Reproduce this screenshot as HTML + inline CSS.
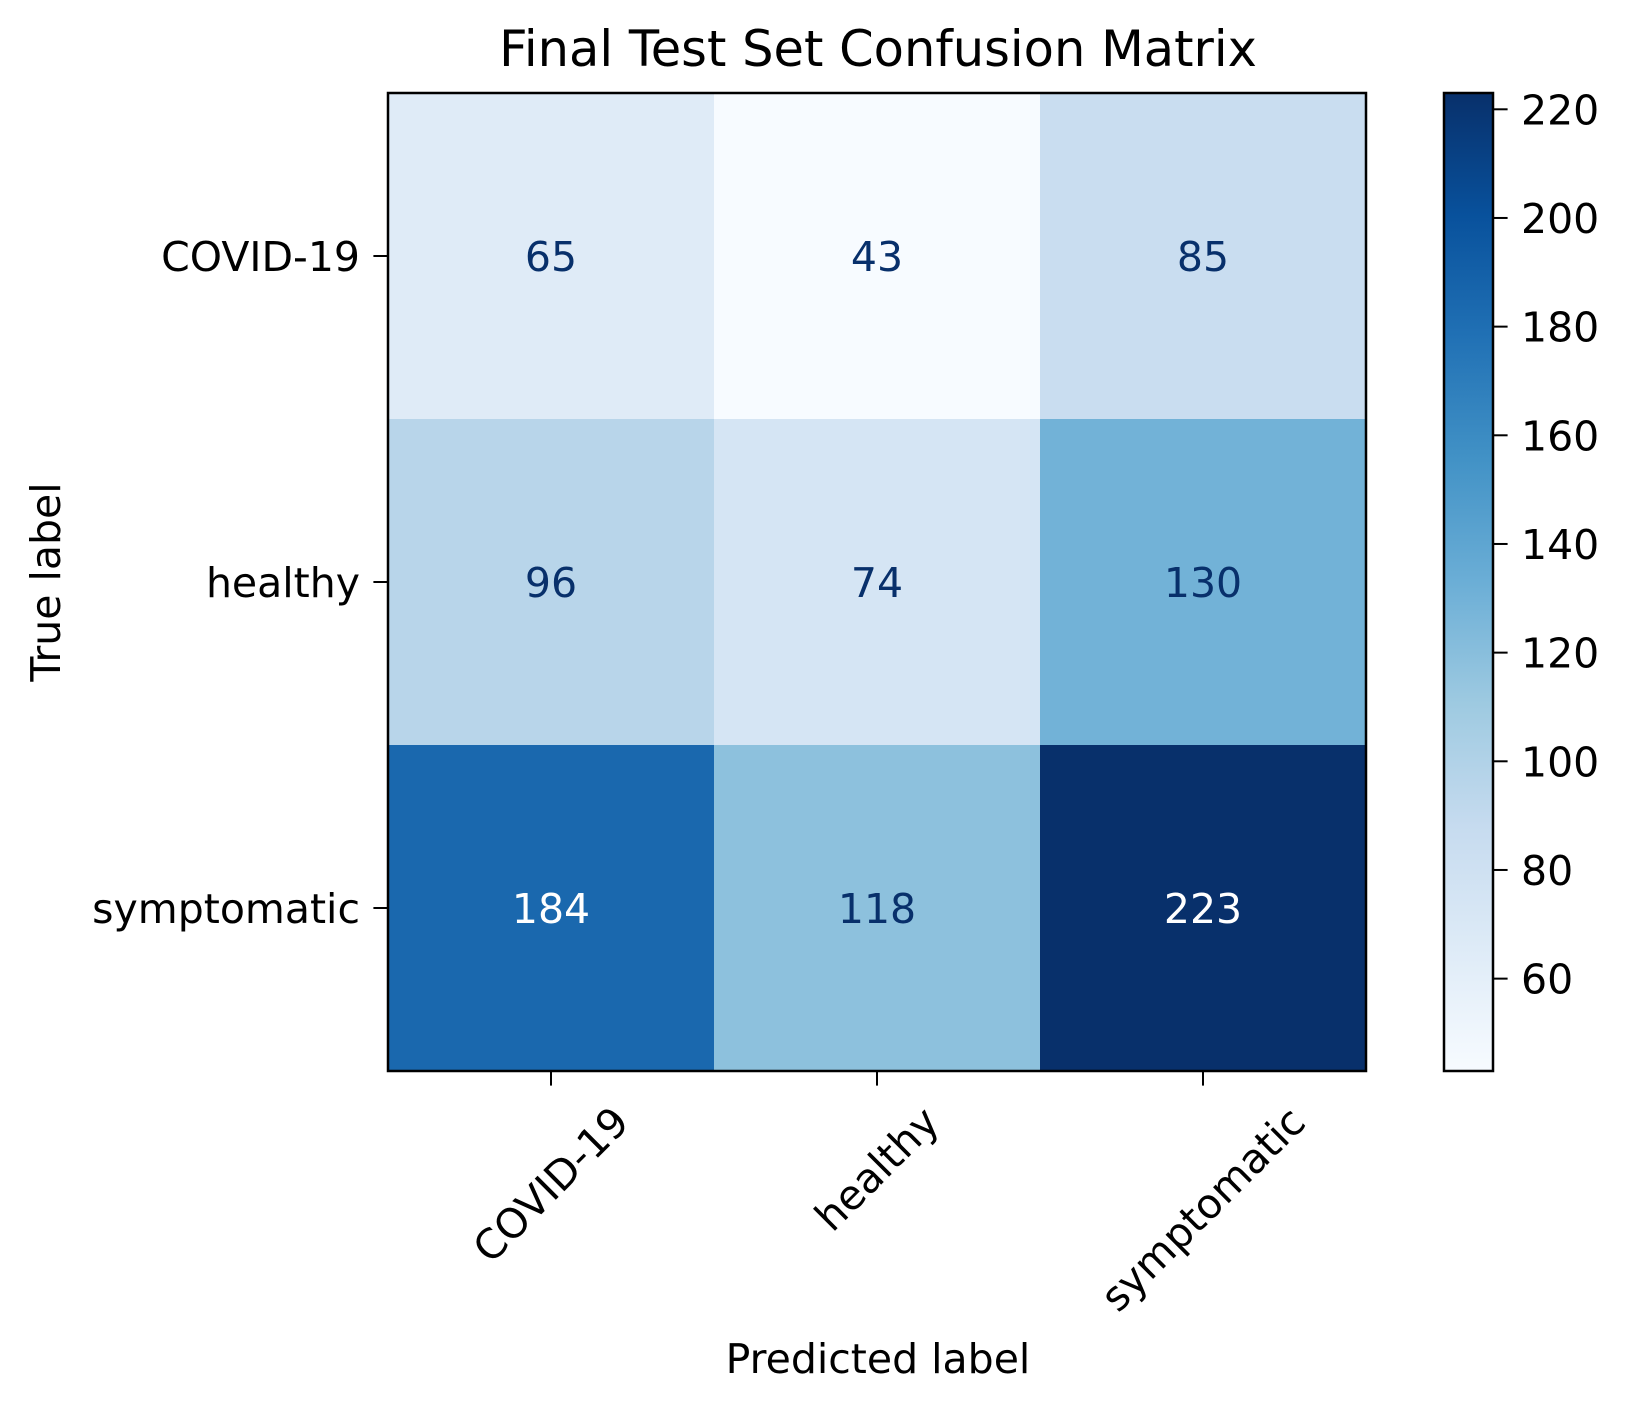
<!DOCTYPE html>
<html><head><meta charset="utf-8"><style>
html,body{margin:0;padding:0;background:#fff;}
svg{display:block;font-family:"DejaVu Sans","Liberation Sans",sans-serif;}
</style></head><body>
<svg id="c" width="1631" height="1408" viewBox="0 0 1631 1408">
<text x="878" y="66" font-size="49.5" text-anchor="middle">Final Test Set Confusion Matrix</text>
<g id="cells"></g>
<g id="ann"></g>
<rect x="388" y="93" width="978" height="978" fill="none" stroke="#000" stroke-width="2.5"/>
<g id="xt"></g><g id="yt"></g>
<text x="878" y="1373" font-size="41" text-anchor="middle">Predicted label</text>
<text transform="translate(60,582) rotate(-90)" font-size="41" text-anchor="middle">True label</text>
<g id="cb"></g>
</svg>
<script>
const labels = ["COVID-19","healthy","symptomatic"];
const row0 = [65,43,85];
const row1 = [96,74,130];
const row2 = [184,118,223];
const cbTicks = [60,80,100,120,140,160,180,200,220];
const matrix=[row0,row1,row2];
const NS="http://www.w3.org/2000/svg";
const L=388,T=93,W=978,H=978,FS=41;
const all=matrix.flat(), vmin=Math.min(...all), vmax=Math.max(...all);
const stops=["#f7fbff","#deebf7","#c6dbef","#9ecae1","#6baed6","#4292c6","#2171b5","#08519c","#08306b"];
function hx(h){return [1,3,5].map(i=>parseInt(h.substr(i,2),16));}
function cmap(v){let t=(v-vmin)/(vmax-vmin);t=Math.max(0,Math.min(1,t));const p=t*8,i=Math.min(7,Math.floor(p)),f=p-i;const a=hx(stops[i]),b=hx(stops[i+1]);return "rgb("+a.map((x,k)=>Math.round(x+(b[k]-x)*f)).join(",")+")";}
const n=labels.length,cw=W/n,ch=H/n;
const xs=i=>L+cw*(i+0.5), ys=j=>T+ch*(j+0.5);
function mk(tag,attrs,parent){const e=document.createElementNS(NS,tag);for(const k in attrs)e.setAttribute(k,attrs[k]);parent.appendChild(e);return e;}
const cells=document.getElementById('cells'),ann=document.getElementById('ann');
matrix.forEach((row,j)=>row.forEach((v,i)=>{
 const r=mk('rect',{x:L+cw*i,y:T+ch*j,width:cw+0.5,height:ch+0.5,fill:cmap(v)},cells);
 
 
 const t=mk('text',{x:xs(i),y:ys(j)+15,'font-size':FS,'text-anchor':'middle',fill:v>(vmin+vmax)/2?'#fff':'#08306b'},ann);
 t.textContent=v;
 
 
}));
const xt=document.getElementById('xt'),yt=document.getElementById('yt');
labels.forEach((lab,i)=>{
 mk('line',{x1:xs(i),x2:xs(i),y1:T+H,y2:T+H+14.6,stroke:'#000','stroke-width':2},xt);
 const t=mk('text',{x:0,y:0,'font-size':FS,'text-anchor':'middle','dominant-baseline':'central'},xt);
 t.textContent=lab;
 
 
 const w=t.getComputedTextLength();const half=(w+FS)*0.7071/2;
 t.setAttribute('transform','translate('+xs(i)+','+(T+H+29+half)+') rotate(-45)');
 mk('line',{x1:L-14.6,x2:L,y1:ys(i),y2:ys(i),stroke:'#000','stroke-width':2},yt);
 const u=mk('text',{x:L-28,y:ys(i)+15,'font-size':FS,'text-anchor':'end'},yt);
 u.textContent=lab;
 
 
});
const cb=document.getElementById('cb');
const CL=1444,CW=49,CT=93,CH=978;
const cy=v=>CT+CH*(vmax-v)/(vmax-vmin);
const defs=mk('defs',{},cb);const g=mk('linearGradient',{id:'gr',x1:0,y1:1,x2:0,y2:0},defs);
stops.forEach((s,k)=>mk('stop',{offset:k/8,'stop-color':s},g));
const cr=mk('rect',{x:CL,y:CT,width:CW,height:CH,fill:'url(#gr)',stroke:'#000','stroke-width':2.5},cb);


cbTicks.forEach(v=>{
 mk('line',{x1:CL+CW,x2:CL+CW+14.6,y1:cy(v),y2:cy(v),stroke:'#000','stroke-width':2},cb);
 const t=mk('text',{x:CL+CW+28,y:cy(v)+15,'font-size':FS},cb);
 t.textContent=v;
 
 
});
</script>
</body></html>
